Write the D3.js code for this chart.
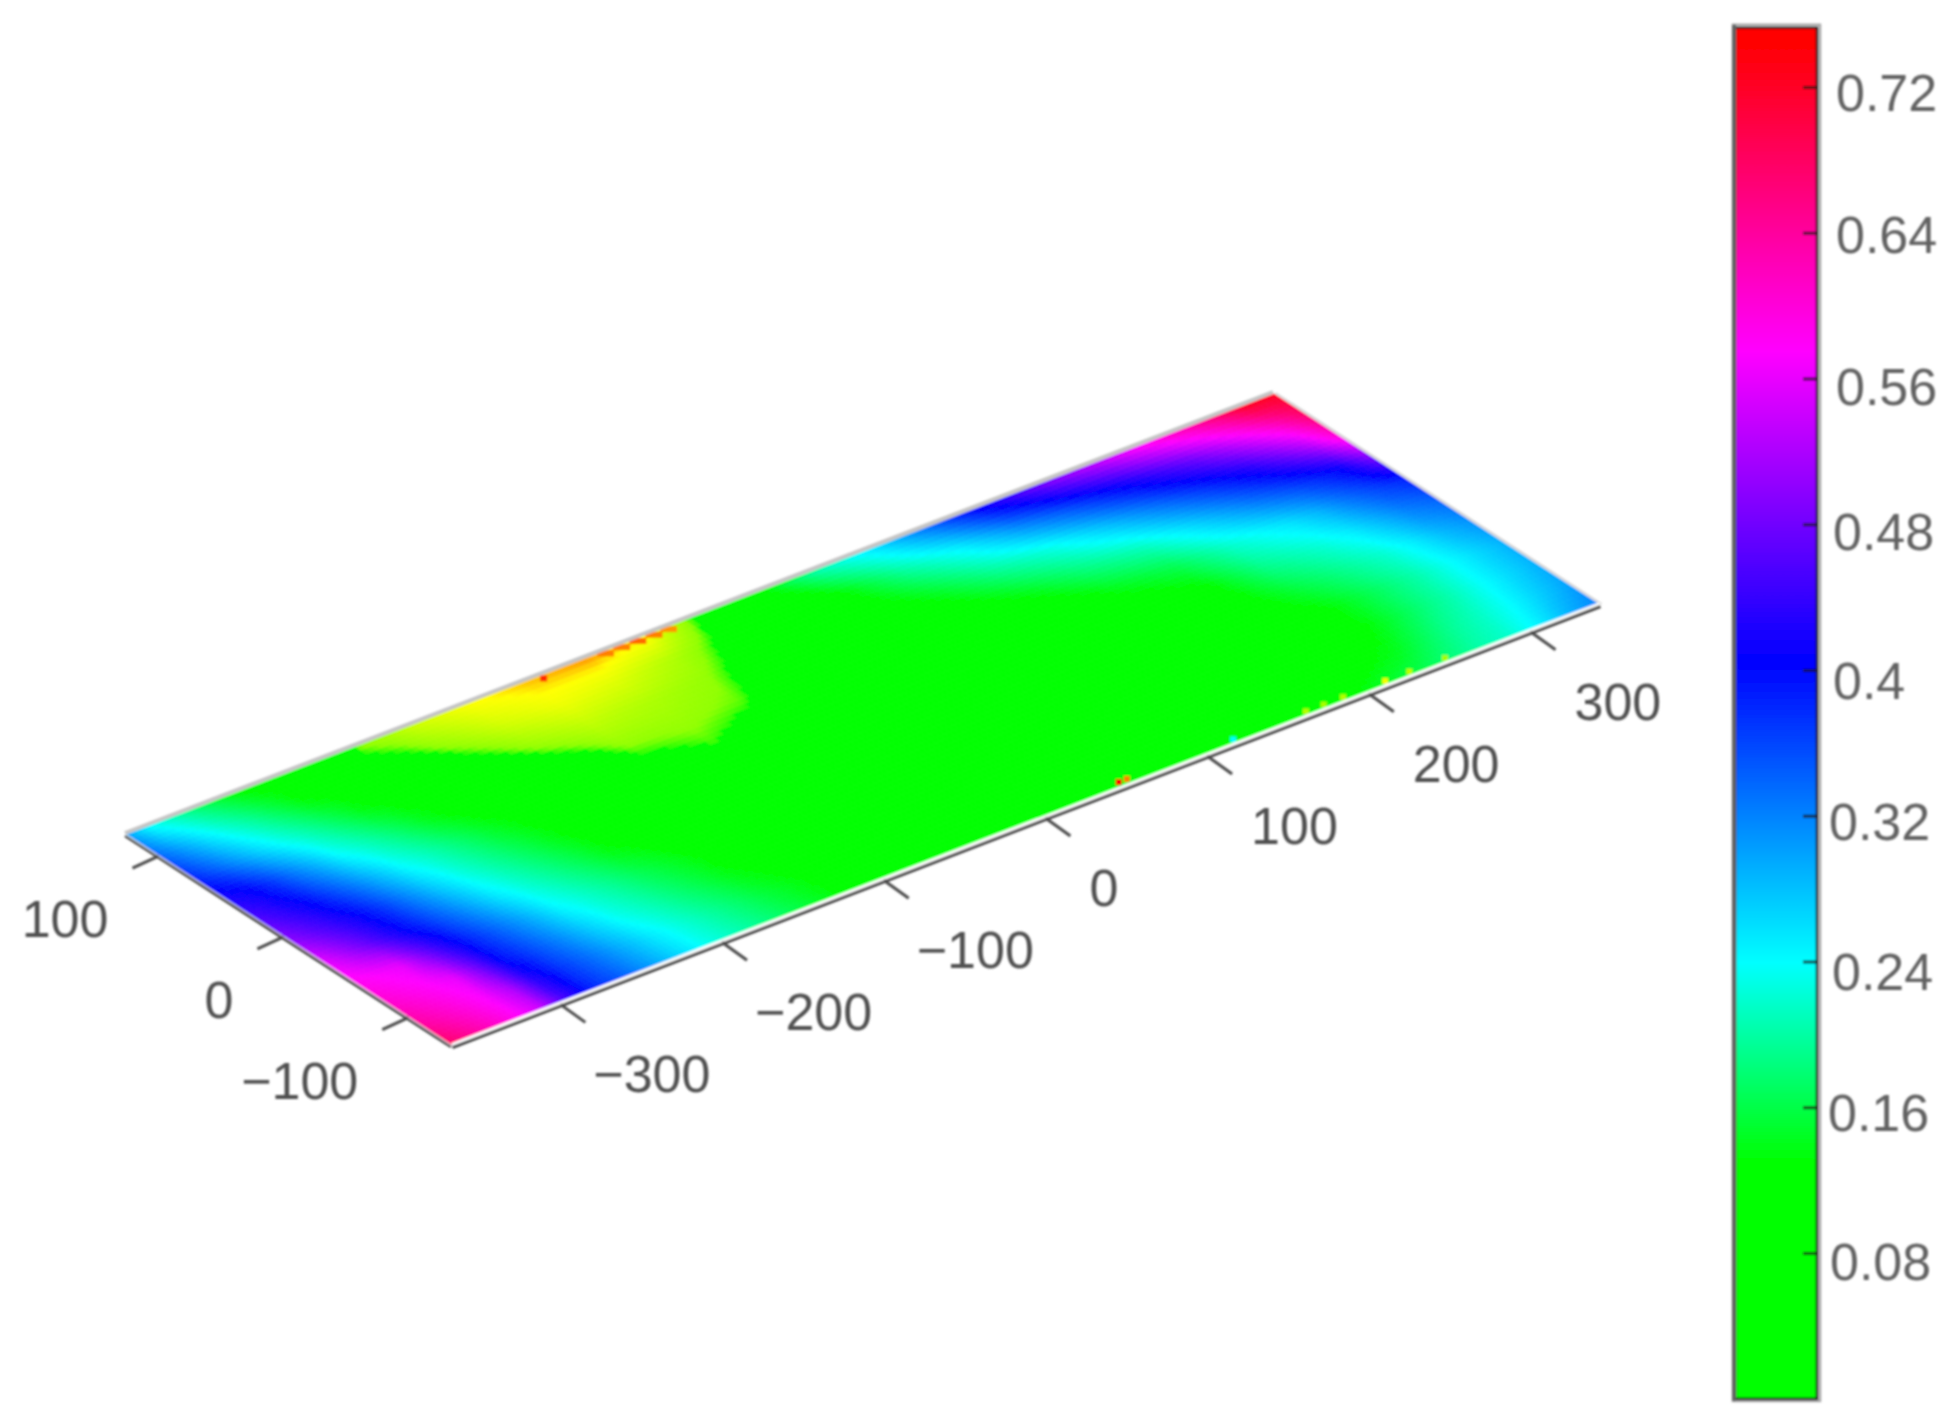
<!DOCTYPE html>
<html><head><meta charset="utf-8">
<style>html,body{margin:0;padding:0;background:#fff}svg{display:block}text{font-family:"Liberation Sans",Arial,sans-serif}</style>
<script src="https://cdn.jsdelivr.net/npm/d3@7"></script>
</head><body>
<script>
// ---- data ----
const gridXs = [-367,-353,-339,-325,-310,-296,-278,-260,-243,-225,-207,-190,-154,-119,-83,-48,-12,23,59,94,130,165,201,236,272,290,308,325,343];
const gridYs = [-135,-109,-83,-57,-31,-5,22,48,74,100,126];
const row1  = [.68,.649,.618,.586,.547,.463,.385,.347,.309,.27,.235,.213,.167,.125,.10,.08,.07,.06,.06,.07,.09,.11,.14,.165,.205,.22,.25,.29,.32];
const row2  = [.64,.618,.596,.573,.524,.436,.374,.335,.296,.257,.227,.203,.154,.12,.10,.08,.07,.06,.06,.06,.07,.10,.115,.14,.195,.215,.24,.27,.30];
const row3  = [.61,.593,.577,.56,.48,.40,.357,.314,.271,.233,.209,.184,.135,.11,.09,.08,.07,.06,.05,.05,.06,.09,.105,.125,.18,.205,.235,.262,.29];
const row4  = [.585,.572,.56,.496,.432,.382,.336,.29,.244,.217,.191,.166,.125,.10,.09,.08,.07,.06,.05,.05,.06,.08,.10,.13,.18,.205,.235,.262,.29];
const row5  = [.56,.517,.475,.432,.39,.352,.304,.255,.222,.194,.167,.14,.11,.09,.08,.07,.06,.05,.05,.05,.06,.08,.11,.158,.20,.22,.25,.285,.31];
const row6  = [.50,.468,.437,.405,.365,.323,.271,.229,.201,.173,.146,.125,.10,.08,.07,.06,.06,.05,.05,.06,.07,.10,.125,.19,.225,.25,.285,.32,.34];
const row7  = [.46,.432,.404,.366,.325,.285,.237,.208,.18,.151,.13,.115,.09,.02,-.001,.02,.06,.06,.08,.08,.10,.14,.165,.22,.26,.29,.33,.36,.385];
const row8  = [.42,.404,.368,.325,.283,.24,.209,.177,.146,.125,.11,.10,.035,-.015,-.018,-.006,.04,.06,.09,.11,.148,.187,.217,.27,.33,.355,.38,.41,.49];
const row9  = [.38,.343,.305,.268,.233,.207,.173,.14,.125,.115,.10,.035,-.02,-.05,-.035,-.015,.03,.06,.11,.15,.20,.233,.285,.34,.395,.425,.47,.52,.60];
const row10 = [.34,.30,.26,.226,.197,.169,.135,.12,.10,.03,.012,-.015,-.065,-.09,-.075,-.035,.02,.07,.135,.20,.25,.32,.37,.42,.48,.52,.565,.61,.67];
const row11 = [.30,.24,.211,.183,.154,.13,.115,.10,.085,-.01,-.03,-.06,-.098,-.115,-.125,-.105,.02,.125,.205,.256,.336,.42,.49,.54,.60,.63,.67,.72,.72];
const gridValues = [row1,row2,row3,row4,row5,row6,row7,row8,row9,row10,row11];

// isolated outlier samples along the plate's edges
const speckXs = [50,55,120,165,176,188,214,229,251,-111,-72,-62,-52,-42,-33];
const speckYs = [-129,-129,-130,-130,-130,-130,-130,-130,-130,123,124,124,124,124,124];
const speckValues = [-.16,-.13,.24,-.04,-.03,-.04,-.09,-.05,-.03,-.15,-.13,-.13,-.135,-.13,-.125];

const xTicks = [-300,-200,-100,0,100,200,300];
const yTicks = [-100,0,100];
const barTicks = [.08,.16,.24,.32,.4,.48,.56,.64,.72];
const barTickLabels = ['0.08','0.16','0.24','0.32','0.4','0.48','0.56','0.64','0.72'];
const colorStops = [-.16,-.1,-.012,-.0001,0,.13,.24,.405,.575,.745];
const colorNames = ['#ff0000','#ffff00','#90ff00','#30ff00','#00ff00','#00ff00','#00ffff','#0000ff','#ff00ff','#ff0000'];

// ---- layout ----
const W = 1958, H = 1428;
const svg = d3.select('body').append('svg').attr('width',W).attr('height',H).attr('viewBox',[0,0,W,H]);
const defs = svg.append('defs');
defs.append('filter').attr('id','soft').attr('filterUnits','userSpaceOnUse')
  .attr('x',0).attr('y',0).attr('width',W).attr('height',H)
  .append('feGaussianBlur').attr('stdDeviation',1.15);
const root = svg.append('g').attr('filter','url(#soft)');

const color = d3.scaleLinear().domain(colorStops).range(colorNames).clamp(true);

// oblique plate projection: long edge B->C (x), short edge B->A (y)
const xPx = d3.scaleLinear().domain([-367,343]).range([452,1600]);
const xPy = d3.scaleLinear().domain([-367,343]).range([1046,605]);
const yPx = d3.scaleLinear().domain([-135,126]).range([0,-326]);
const yPy = d3.scaleLinear().domain([-135,126]).range([0,-211]);
const project = (x,y) => [xPx(x)+yPx(y), xPy(x)+yPy(y)];

// field cells, each data cell shaded by bilinear subdivision
const cells = [];
d3.range(gridYs.length-1).forEach(j => {
  d3.range(gridXs.length-1).forEach(i => {
    const x0=gridXs[i],x1=gridXs[i+1],y0=gridYs[j],y1=gridYs[j+1];
    const nu=Math.max(1,Math.ceil((xPx(x1)-xPx(x0))/5)), nv=Math.max(1,Math.ceil(-(yPy(y1)-yPy(y0))/4));
    const a=gridValues[j][i],b=gridValues[j][i+1],c=gridValues[j+1][i],d=gridValues[j+1][i+1];
    d3.range(nu).forEach(p => d3.range(nv).forEach(q => {
      const s=(p+.5)/nu,t=(q+.5)/nv;
      const val=a*(1-s)*(1-t)+b*s*(1-t)+c*(1-s)*t+d*s*t;
      const xa=x0+(x1-x0)*p/nu,xb=x0+(x1-x0)*(p+1)/nu,ya=y0+(y1-y0)*q/nv,yb=y0+(y1-y0)*(q+1)/nv;
      cells.push({val,pts:[project(xa,ya),project(xb,ya),project(xb,yb),project(xa,yb)]});
    }));
  });
});
const line = d3.line();
root.append('g').selectAll('path').data(cells).join('path')
  .attr('d',d=>line(d.pts)+'Z')
  .attr('fill',d=>color(d.val))
  .attr('stroke',d=>color(d.val))
  .attr('stroke-width',0.7);

// outlier specks: strip along the back edge, tiny dots along the front edge
const speckW=(d,i)=>speckYs[i]>0?(i===9?7:17):6;
root.append('g').selectAll('rect').data(speckXs).join('rect')
  .attr('x',(d,i)=>project(d,speckYs[i])[0]-speckW(d,i)/2)
  .attr('y',(d,i)=>project(d,speckYs[i])[1]-3)
  .attr('width',speckW).attr('height',6)
  .attr('fill',(d,i)=>color(speckValues[i]));

// plate outline
const xMin=-367,xMax=343,yMin=-135,yMax=126;
const edge=(p,q,stroke,w,dx=0,dy=0)=>root.append('line')
  .attr('x1',project(...p)[0]+dx).attr('y1',project(...p)[1]+dy)
  .attr('x2',project(...q)[0]+dx).attr('y2',project(...q)[1]+dy)
  .attr('stroke',stroke).attr('stroke-width',w);
edge([xMin,yMax],[xMax,yMax],'#c4c4c4',4,-1,-2);
edge([xMax,yMax],[xMax,yMin],'#d2d2d2',2,1.5,-1);
edge([xMin,yMin],[xMax,yMin],'#ffffff',4,0,-1);
edge([xMin,yMin],[xMax,yMin],'#454545',3,0.5,1.5);
edge([xMin,yMin],[xMin,yMax],'#ffffff',3,-0.5,0.5);
edge([xMin,yMin],[xMin,yMax],'#454545',2.6,-1,1);

// oblique axes
const axisText='#505050';
root.append('g').selectAll('line').data(xTicks).join('line')
  .attr('x1',d=>project(d,yMin)[0]).attr('y1',d=>project(d,yMin)[1])
  .attr('x2',d=>project(d,yMin)[0]+25).attr('y2',d=>project(d,yMin)[1]+18)
  .attr('stroke','#4a4a4a').attr('stroke-width',3);
root.append('g').selectAll('text').data(xTicks).join('text')
  .attr('x',d=>project(d,yMin)[0]+(d<0?33:44)).attr('y',d=>project(d,yMin)[1]+88)
  .attr('font-size',52).attr('fill',axisText)
  .text(d=>d<0?'\u2212'+Math.abs(d):d);
root.append('g').selectAll('line').data(yTicks).join('line')
  .attr('x1',d=>project(xMin,d)[0]).attr('y1',d=>project(xMin,d)[1])
  .attr('x2',d=>project(xMin,d)[0]-26).attr('y2',d=>project(xMin,d)[1]+12)
  .attr('stroke','#4a4a4a').attr('stroke-width',3);
root.append('g').selectAll('text').data(yTicks).join('text')
  .attr('x',d=>project(xMin,d)[0]-50).attr('y',d=>project(xMin,d)[1]+81)
  .attr('text-anchor','end')
  .attr('font-size',52).attr('fill',axisText)
  .text(d=>d<0?'\u2212'+Math.abs(d):d);

// colour bar
const barY = d3.scaleLinear().domain([.08,.72]).range([1253,87]);
const barLeft=1735, barRight=1817, barTop=barY(.7525), barBottom=barY(.001);
const grad=defs.append('linearGradient').attr('id','bar').attr('x1',0).attr('y1',1).attr('x2',0).attr('y2',0);
const barStops=[.001,.13,.24,.405,.575,.745,.7525];
grad.selectAll('stop').data(barStops).join('stop')
  .attr('offset',d=>(d-.001)/(.7525-.001))
  .attr('stop-color',d=>color(d));
root.append('rect').attr('x',barLeft-2).attr('y',barTop-3).attr('width',barRight-barLeft+5).attr('height',barBottom-barTop+7)
  .attr('fill','none').attr('stroke','#a8a8a8').attr('stroke-width',2.5);
root.append('rect').attr('x',barLeft).attr('y',barTop).attr('width',barRight-barLeft).attr('height',barBottom-barTop+2)
  .attr('fill','url(#bar)').attr('stroke','#1a1a1a').attr('stroke-width',2.5);
root.append('line').attr('x1',barLeft-1).attr('x2',barLeft-1).attr('y1',barTop-3).attr('y2',barBottom+4)
  .attr('stroke','#5f6060').attr('stroke-width',4);

const labelDx={'0.72':0,'0.64':0,'0.56':0,'0.48':-3,'0.4':-3,'0.32':-7,'0.24':-4,'0.16':-8,'0.08':-6};
const labelDy={'0.72':5,'0.64':1,'0.56':7,'0.48':7,'0.4':10,'0.32':5,'0.24':9,'0.16':5,'0.08':8};
const barAxis=d3.axisRight(barY).tickValues(barTicks).tickSize(-13).tickPadding(20)
  .tickFormat((d,i)=>barTickLabels[i]);
const barG=root.append('g').attr('transform',`translate(${barRight-1},0)`).call(barAxis);
barG.select('.domain').remove();
barG.selectAll('.tick line').attr('stroke','#111').attr('stroke-opacity',.75).attr('stroke-width',3);
barG.selectAll('.tick text')
  .attr('font-size',52).attr('font-family','"Liberation Sans",Arial,sans-serif').attr('fill','#626262')
  .attr('x',(d,i)=>20+labelDx[barTickLabels[i]])
  .attr('dy',(d,i)=>`${18.5+labelDy[barTickLabels[i]]}px`);
</script>
</body></html>
